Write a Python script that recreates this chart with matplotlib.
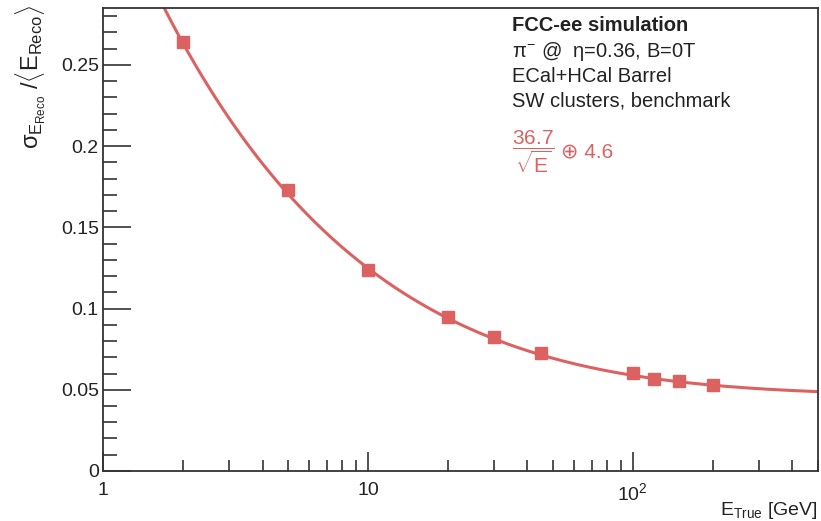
import numpy as np
import matplotlib
matplotlib.use('Agg')
import matplotlib.pyplot as plt
from matplotlib.ticker import FixedLocator, MultipleLocator, NullFormatter

plt.rcParams['font.family'] = ['Liberation Sans', 'DejaVu Sans']
plt.rcParams['mathtext.fontset'] = 'custom'
plt.rcParams['mathtext.rm'] = 'Liberation Sans'
plt.rcParams['mathtext.it'] = 'Liberation Sans'
plt.rcParams['mathtext.bf'] = 'Liberation Sans:bold'
plt.rcParams['mathtext.sf'] = 'Liberation Sans'

# measured resolution points
energy = [2, 5, 10, 20, 30, 45, 100, 120, 150, 200]
resolution = [0.264, 0.173, 0.1237, 0.0948, 0.0825, 0.0726, 0.0603, 0.0566, 0.0554, 0.0529]

# fit parameters shown on the plot (percent)
stoch_term = 36.7
const_term = 4.6

red = '#dc6262'
dark = '#222222'

fig = plt.figure(figsize=(8.21, 5.21), dpi=100)
ax = fig.add_axes([0.1255, 0.096, 0.8708, 0.8886])

e_fit = np.geomspace(1, 500, 400)
res_fit = np.sqrt((stoch_term / 100 / np.sqrt(e_fit)) ** 2 + (const_term / 100) ** 2)
ax.plot(e_fit, res_fit, color=red, lw=2.2, zorder=2)
ax.plot(energy, resolution, 's', color=red, ms=8, zorder=3)

ax.set_xscale('log')
ax.set_xlim(1, 500)
ax.set_ylim(0, 0.285)

ax.set_xticks([1, 10, 100])
ax.set_xticklabels(['1', '10', r'10$^{2}$'])
minors = [m * d for d in [1, 10, 100] for m in range(2, 10) if m * d <= 500]
ax.xaxis.set_minor_locator(FixedLocator(minors))
ax.xaxis.set_minor_formatter(NullFormatter())

ax.set_yticks([0, 0.05, 0.1, 0.15, 0.2, 0.25])
ax.set_yticklabels(['0', '0.05', '0.1', '0.15', '0.2', '0.25'])
ax.yaxis.set_minor_locator(MultipleLocator(0.01))

ax.tick_params(axis='both', which='both', direction='in', labelsize=14,
               color='#333333', width=1.2, labelcolor=dark)
ax.tick_params(axis='y', which='major', length=20, pad=3)
ax.tick_params(axis='y', which='minor', length=10)
ax.tick_params(axis='x', which='major', length=14, pad=8)
ax.tick_params(axis='x', which='minor', length=8)
for s in ax.spines.values():
    s.set_linewidth(1.3)
    s.set_color('#333333')

ax.text(1.0, -0.085, r'E$_{\rm True}$ [GeV]', transform=ax.transAxes,
        ha='right', va='center', fontsize=14, color=dark)
fig.text(0.038, 0.99, r'$\sigma_{E_{\rm Reco}}$ /$\langle$E$_{\rm Reco}\rangle$',
         rotation=90, ha='center', va='top', fontsize=17, color=dark)

tx = 0.5725
ax.text(tx, 0.962, 'FCC-ee simulation', transform=ax.transAxes,
        fontsize=14.5, fontweight='bold', va='center', color=dark)
ax.text(tx, 0.907, r'$\pi^{-}$ @  $\eta$=0.36, B=0T', transform=ax.transAxes,
        fontsize=14.5, va='center', color=dark)
ax.text(tx, 0.853, 'ECal+HCal Barrel', transform=ax.transAxes,
        fontsize=14.5, va='center', color=dark)
ax.text(tx, 0.799, 'SW clusters, benchmark', transform=ax.transAxes,
        fontsize=14.5, va='center', color=dark)
ax.text(tx, 0.69, r'$\dfrac{%.1f}{\sqrt{E}}$' % stoch_term,
        transform=ax.transAxes, fontsize=15, va='center', color=red)
ax.text(0.641, 0.69, '⊕ %.1f' % const_term, transform=ax.transAxes,
        fontsize=15, va='center', color=red,
        family=['Liberation Sans', 'DejaVu Sans'])

fig.savefig('out.png', dpi=100)
